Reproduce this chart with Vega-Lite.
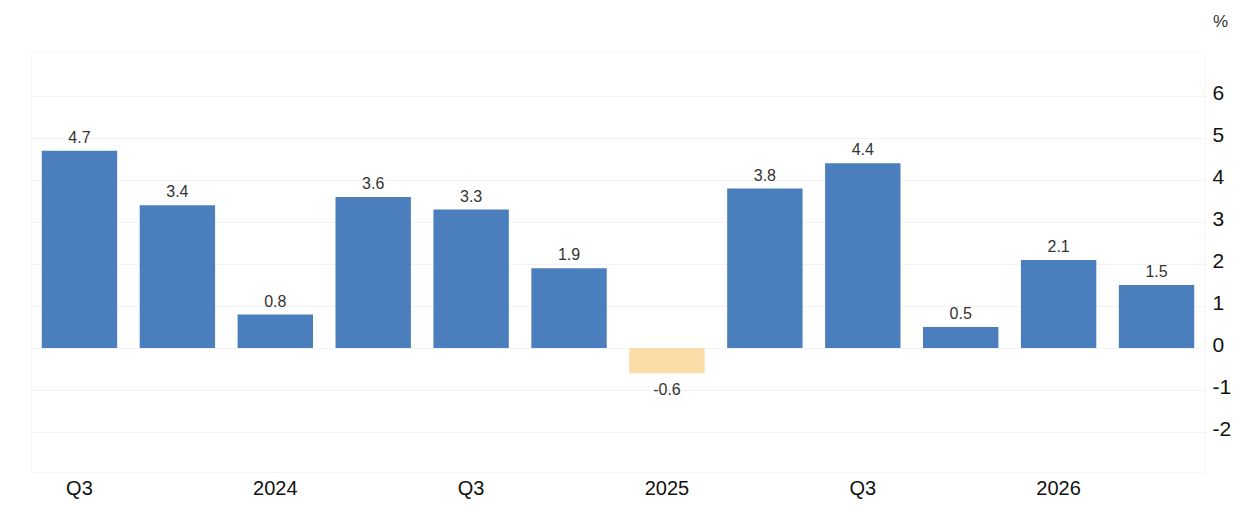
{
  "$schema": "https://vega.github.io/schema/vega-lite/v6.json",
  "width": 1174,
  "height": 420,
  "autosize": "none",
  "padding": {"left": 31, "top": 52, "right": 43, "bottom": 42},
  "background": "white",
  "data": {
    "values": [
      {"period": "2023Q3", "value": 4.7},
      {"period": "2023Q4", "value": 3.4},
      {"period": "2024Q1", "value": 0.8},
      {"period": "2024Q2", "value": 3.6},
      {"period": "2024Q3", "value": 3.3},
      {"period": "2024Q4", "value": 1.9},
      {"period": "2025Q1", "value": -0.6},
      {"period": "2025Q2", "value": 3.8},
      {"period": "2025Q3", "value": 4.4},
      {"period": "2025Q4", "value": 0.5},
      {"period": "2026Q1", "value": 2.1},
      {"period": "2026Q2", "value": 1.5}
    ]
  },
  "encoding": {
    "x": {
      "field": "period",
      "type": "ordinal",
      "sort": null,
      "scale": {"paddingInner": 0.23, "paddingOuter": 0.11},
      "axis": {
        "title": null,
        "domain": false,
        "ticks": false,
        "grid": false,
        "labelAngle": 0,
        "labelFont": "Liberation Sans",
        "labelFontSize": 20,
        "labelColor": "#111111",
        "labelPadding": 6,
        "labelExpr": "substring(datum.value, 4) == 'Q3' ? 'Q3' : (substring(datum.value, 4) == 'Q1' ? substring(datum.value, 0, 4) : '')"
      }
    },
    "y": {
      "field": "value",
      "type": "quantitative",
      "scale": {"domain": [-2.95, 7.05], "nice": false, "zero": false},
      "axis": {
        "orient": "right",
        "values": [-2, -1, 0, 1, 2, 3, 4, 5, 6],
        "domain": false,
        "ticks": false,
        "grid": true,
        "gridColor": "#f3f3f3",
        "labelFont": "Liberation Sans",
        "labelFontSize": 21,
        "labelColor": "#111111",
        "labelPadding": 7,
        "labelOffset": -3,
        "labelExpr": "replace(datum.label, '\u2212', '-')",
        "title": "%",
        "titleAngle": 0,
        "titleFont": "Liberation Sans",
        "titleFontSize": 17,
        "titleFontWeight": "normal",
        "titleColor": "#333333",
        "titleAlign": "center",
        "titleBaseline": "middle",
        "titleX": 15,
        "titleY": -31
      }
    }
  },
  "layer": [
    {
      "mark": {"type": "bar"},
      "encoding": {
        "color": {
          "condition": {"test": "datum.value < 0", "value": "#f9dca8"},
          "value": "#4a7ebd"
        }
      }
    },
    {
      "transform": [{"filter": "datum.value >= 0"}],
      "mark": {
        "type": "text",
        "baseline": "bottom",
        "dy": -5,
        "font": "Liberation Sans",
        "fontSize": 16,
        "color": "#333333"
      },
      "encoding": {"text": {"field": "value", "type": "nominal"}}
    },
    {
      "transform": [{"filter": "datum.value < 0"}],
      "mark": {
        "type": "text",
        "baseline": "top",
        "dy": 9,
        "font": "Liberation Sans",
        "fontSize": 16,
        "color": "#333333"
      },
      "encoding": {"text": {"field": "value", "type": "nominal"}}
    }
  ],
  "config": {
    "view": {"stroke": "#f6f6f6"}
  }
}
